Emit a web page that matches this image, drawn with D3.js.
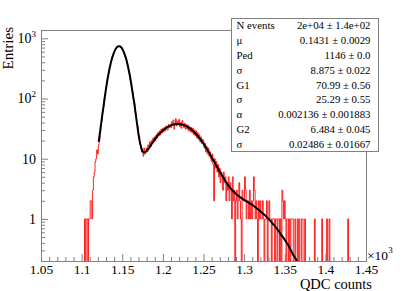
<!DOCTYPE html>
<html>
<head>
<meta charset="utf-8">
<script src="https://cdn.jsdelivr.net/npm/d3@7"></script>
<style>
  body { margin: 0; background: #fff; }
  svg { display: block; font-family: "Liberation Serif", "DejaVu Serif", serif; }
</style>
</head>
<body>
<svg id="chart" width="407" height="291"></svg>
<script>
// histogram: one bin per QDC count, first bin centred on 1.100 (x10^3)
const binStart = 1.0995;
const binWidth = 0.001;
const counts = [
  0, 0, 0, 0, 1, 0, 1, 1, 0, 1,
  1, 2, 2, 1, 3, 5, 6, 9, 10, 14,
  12, 17, 20, 27, 36, 43, 61, 72, 98, 112,
  151, 170, 219, 248, 305, 336, 398, 437, 501, 536,
  582, 640, 661, 707, 716, 741, 733, 746, 712, 704,
  661, 625, 597, 535, 488, 451, 386, 349, 291, 259,
  209, 186, 143, 127, 96, 84, 60, 55, 37, 35,
  25, 24, 17, 15, 13, 14, 11, 15, 12, 13,
  15, 13, 17, 16, 19, 16, 20, 18, 22, 19,
  23, 20, 25, 22, 27, 24, 29, 25, 31, 27,
  32, 28, 33, 29, 35, 31, 30, 37, 33, 36,
  33, 41, 36, 44, 31, 39, 46, 35, 42, 37,
  45, 34, 40, 32, 43, 38, 33, 39, 31, 37,
  31, 36, 29, 34, 28, 33, 27, 32, 25, 30,
  24, 29, 22, 27, 21, 25, 19, 23, 18, 21,
  20, 15, 18, 13, 16, 12, 15, 11, 13, 10,
  9, 12, 8, 2, 10, 7, 9, 6, 8, 5,
  7, 4, 6, 5, 3, 6, 4, 5, 2, 4,
  3, 5, 2, 4, 3, 1, 5, 2, 3, 0,
  2, 3, 1, 2, 4, 2, 1, 0, 3, 2,
  2, 5, 3, 1, 2, 2, 1, 3, 1, 2,
  1, 2, 5, 3, 1, 2, 1, 0, 2, 1,
  2, 1, 1, 2, 1, 0, 1, 1, 2, 0,
  1, 2, 1, 1, 0, 1, 1, 1, 0, 1,
  1, 0, 1, 1, 0, 1, 0, 3, 2, 1,
  2, 1, 0, 1, 1, 0, 1, 0, 1, 1,
  1, 0, 0, 1, 0, 0, 1, 0, 1, 0,
  0, 1, 1, 0, 0, 1, 0, 0, 0, 0,
  0, 0, 0, 0, 0, 0, 0, 1, 0, 0,
  0, 0, 0, 0, 0, 0, 1, 0, 0, 0,
  0, 0, 1, 0, 0, 1, 0, 0, 0, 0,
  0, 0, 0, 0, 0, 0, 0, 0, 0, 0,
  0, 0, 0, 0, 0, 0, 0, 0, 1, 0
];

// fit function
const fitX = [1.121, 1.123, 1.125, 1.127, 1.129, 1.131, 1.133, 1.135, 1.137, 1.139,
  1.141, 1.143, 1.145, 1.146, 1.147, 1.149, 1.151, 1.153, 1.155, 1.157,
  1.159, 1.161, 1.163, 1.165, 1.167, 1.169, 1.171, 1.173, 1.175, 1.177,
  1.180, 1.185, 1.190, 1.195, 1.200, 1.205, 1.210, 1.215, 1.220, 1.225,
  1.230, 1.235, 1.240, 1.245, 1.250, 1.255, 1.260, 1.265, 1.270, 1.275,
  1.280, 1.285, 1.290, 1.295, 1.300, 1.305, 1.310, 1.315, 1.320, 1.325,
  1.330, 1.335, 1.340, 1.345, 1.350, 1.355, 1.360, 1.365, 1.370];
const fitY = [19, 30, 48, 75, 118, 177, 253, 343, 443, 542,
  631, 699, 735, 740, 735, 699, 631, 542, 443, 343,
  253, 177, 118, 80, 50, 32, 21, 16, 13.1, 12.7,
  13.5, 16.5, 21, 25.5, 29.5, 33, 36, 37.5, 37.8, 36.5,
  34, 30.6, 26.5, 22, 17.8, 13.9, 10.6, 8.0, 6.1, 4.7,
  3.7, 3.05, 2.6, 2.3, 2.07, 1.88, 1.72, 1.52, 1.34, 1.17,
  1.0, 0.84, 0.7, 0.56, 0.45, 0.35, 0.26, 0.2, 0.15];

const xMajor = [1.05, 1.1, 1.15, 1.2, 1.25, 1.3, 1.35, 1.4, 1.45];
const xMajorLabels = ["1.05", "1.1", "1.15", "1.2", "1.25", "1.3", "1.35", "1.4", "1.45"];
const yMajor = [1, 10, 100, 1000];
const yMajorBase = ["1", "10", "10", "10"];
const yMajorExp = ["", "", "2", "3"];

const statNames = ["N events", "\u03bc", "Ped", "\u03c3", "G1", "\u03c3", "\u03b1", "G2", "\u03c3"];
const statValues = ["2e+04 \u00b1 1.4e+02", "0.1431 \u00b1 0.0029", "1146 \u00b1 0.0",
  "8.875 \u00b1 0.022", "70.99 \u00b1 0.56", "25.29 \u00b1 0.55",
  "0.002136 \u00b1 0.001883", "6.484 \u00b1 0.045", "0.02486 \u00b1 0.01667"];

const svg = d3.select('#chart');
const frame = { left: 41, right: 366, top: 30, bottom: 261 };
const axisColor = '#808080';

const x = d3.scaleLinear().domain([1.05, 1.45]).range([frame.left, frame.right]);
const y = d3.scaleLog().domain([0.2, 1374]).range([frame.bottom, frame.top]);

svg.append('clipPath').attr('id', 'clip')
  .append('rect')
  .attr('x', frame.left).attr('y', frame.top)
  .attr('width', frame.right - frame.left).attr('height', frame.bottom - frame.top);

const plot = svg.append('g').attr('clip-path', 'url(#clip)');

// histogram as a step outline, empty bins drop to the bottom of the frame
const yOf = c => c > 0 ? y(c) : frame.bottom + 2;
let d = `M${x(binStart)},${frame.bottom + 2}`;
counts.forEach((c, i) => {
  d += `V${yOf(c)}H${x(binStart + (i + 1) * binWidth)}`;
});
d += `V${frame.bottom + 2}`;
plot.append('path')
  .attr('d', d)
  .attr('fill', 'none')
  .attr('stroke', '#ff0000')
  .attr('stroke-opacity', 0.85)
  .attr('stroke-width', 1);

// fit curve
const line = d3.line()
  .x(p => x(p[0]))
  .y(p => y(p[1]))
  .curve(d3.curveMonotoneX);
plot.append('path')
  .attr('d', line(fitX.map((v, i) => [v, fitY[i]])))
  .attr('fill', 'none')
  .attr('stroke', '#000')
  .attr('stroke-width', 2);

// x axis
const xMinor = d3.range(1.05, 1.4501, 0.01).filter(v => !xMajor.some(m => Math.abs(m - v) < 1e-6));
const xAxisG = svg.append('g').attr('transform', `translate(0,${frame.bottom})`);
xAxisG.append('g')
  .call(d3.axisBottom(x).tickValues(xMinor).tickSize(-4).tickFormat(''))
  .call(g => g.select('.domain').remove());
xAxisG.append('g')
  .call(d3.axisBottom(x).tickValues(xMajor).tickSize(-7).tickPadding(3)
    .tickFormat((v, i) => xMajorLabels[i]))
  .call(g => g.select('.domain').remove());
xAxisG.selectAll('line').attr('stroke', axisColor);
xAxisG.selectAll('text')
  .attr('font-family', '"Liberation Serif", serif')
  .attr('font-size', 13.5)
  .attr('fill', '#000');

// y axis (log)
const yMinor = [];
[0.1, 1, 10, 100, 1000].forEach(dec => {
  for (let k = 2; k <= 9; k++) {
    const v = k * dec;
    if (v >= 0.2 && v <= 1374) yMinor.push(v);
  }
});
const yAxisG = svg.append('g').attr('transform', `translate(${frame.left},0)`);
yAxisG.append('g')
  .call(d3.axisLeft(y).tickValues(yMinor).tickSize(-4).tickFormat(''))
  .call(g => g.select('.domain').remove());
yAxisG.append('g')
  .call(d3.axisLeft(y).tickValues(yMajor).tickSize(-7).tickPadding(5).tickFormat(''))
  .call(g => g.select('.domain').remove())
  .selectAll('.tick text')
  .each(function (v, i) {
    const t = d3.select(this)
      .attr('font-family', '"Liberation Serif", serif')
      .attr('font-size', 14)
      .attr('fill', '#000');
    t.append('tspan').text(yMajorBase[i]);
    if (yMajorExp[i]) {
      t.append('tspan').attr('font-size', 9).attr('dy', '-0.75em').text(yMajorExp[i]);
    }
  });
yAxisG.selectAll('line').attr('stroke', axisColor);

// frame
svg.append('rect')
  .attr('x', frame.left + 0.5).attr('y', frame.top + 0.5)
  .attr('width', frame.right - frame.left).attr('height', frame.bottom - frame.top)
  .attr('fill', 'none')
  .attr('stroke', axisColor);

// axis titles
svg.append('text')
  .attr('transform', `translate(13,27) rotate(-90)`)
  .attr('text-anchor', 'end')
  .attr('font-size', 15)
  .text('Entries');

svg.append('text')
  .attr('x', 372).attr('y', 289)
  .attr('text-anchor', 'end')
  .attr('font-size', 14.5)
  .text('QDC counts');

const expo = svg.append('text')
  .attr('x', 367).attr('y', 259.5)
  .attr('font-size', 13.5);
expo.append('tspan').text('\u00d710');
expo.append('tspan').attr('font-size', 9).attr('dy', '-0.75em').text('3');

// stats box
const box = { x: 231.5, y: 18.5, w: 147, h: 133 };
const rowH = box.h / statNames.length;
svg.append('rect')
  .attr('x', box.x).attr('y', box.y)
  .attr('width', box.w).attr('height', box.h)
  .attr('fill', '#fff')
  .attr('stroke', axisColor);

const rows = svg.append('g').attr('font-size', 10.8);
rows.selectAll('.stat-name')
  .data(statNames)
  .join('text')
  .attr('class', 'stat-name')
  .attr('x', box.x + 5)
  .attr('y', (s, i) => box.y + rowH * (i + 0.5) + 3.6)
  .text(s => s);
rows.selectAll('.stat-value')
  .data(statValues)
  .join('text')
  .attr('class', 'stat-value')
  .attr('x', box.x + box.w - 8)
  .attr('y', (s, i) => box.y + rowH * (i + 0.5) + 3.6)
  .attr('text-anchor', 'end')
  .text(s => s);
</script>
</body>
</html>
